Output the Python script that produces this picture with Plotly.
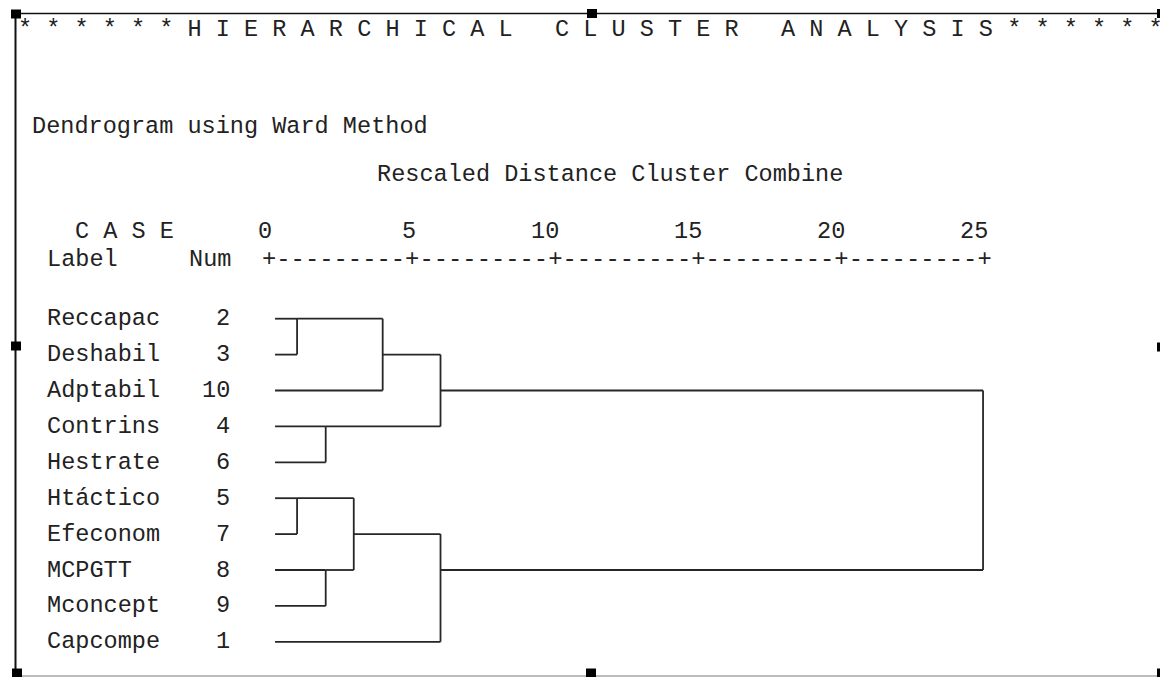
import math
import plotly.graph_objects as go

# ---------------- data ----------------
case_labels = ["Reccapac", "Deshabil", "Adptabil", "Contrins", "Hestrate",
               "Htáctico", "Efeconom", "MCPGTT", "Mconcept", "Capcompe"]
case_nums = [2, 3, 10, 4, 6, 5, 7, 8, 9, 1]

# agglomeration (node ids: 0..9 = rows in display order, 10+ = new clusters)
merge_left = [0, 5, 3, 7, 11, 10, 15, 14, 16]
merge_right = [1, 6, 4, 8, 13, 2, 12, 9, 17]
merge_dist = [1.04, 1.04, 2.04, 2.04, 3.02, 4.03, 6.05, 6.05, 25.0]
leaf_start = 0.27

tick_vals = [0, 5, 10, 15, 20, 25]
tick_text = ["0", "5", "10", "15", "20", "25"]

title_text = "* * * * * * H I E R A R C H I C A L   C L U S T E R   A N A L Y S I S * * * * * *"
method_text = "Dendrogram using Ward Method"
axis_title = "Rescaled Distance Cluster Combine"
case_header = "C A S E"
label_header = "Label"
num_header = "Num"
axis_rule = "+---------+---------+---------+---------+---------+"

# ---------------- geometry ----------------
W, H = 1160, 677
X0_PX, PX_PER_UNIT = 267.3, 28.63
Y0_PX, PX_PER_ROW = 318.7, 35.9
FONT = "Courier New, Liberation Mono, monospace"
FS = 23.55
TXT = "#222222"
LINE = "#262626"


def px(x):
    return x / W


def py(y):
    return 1 - y / H


# ---------------- dendrogram segments ----------------
n = len(case_labels)
pos = {i: i for i in range(n)}
height = {i: leaf_start for i in range(n)}
xs, ys = [], []
for k, (a, b, d) in enumerate(zip(merge_left, merge_right, merge_dist)):
    ya, yb = pos[a], pos[b]
    xs += [height[a], d, None, height[b], d, None, d, d, None]
    ys += [ya, ya, None, yb, yb, None, ya, yb, None]
    node = n + k
    pos[node] = math.floor((ya + yb) / 2)
    height[node] = d

fig = go.Figure()
fig.add_trace(go.Scatter(x=xs, y=ys, mode="lines",
                         line=dict(color=LINE, width=1.8),
                         hoverinfo="skip", showlegend=False))

ann = []


def text(t, x, y, xanchor="left", size=FS, xref="paper", yref="paper", xshift=0):
    ann.append(dict(text=t.replace(" ", "\u00a0"), x=x, y=y, xref=xref, yref=yref,
                    xanchor=xanchor, yanchor="middle", showarrow=False,
                    xshift=xshift,
                    font=dict(family=FONT, size=size, color=TXT)))


text(title_text, px(16.0), py(29.5))
text(method_text, px(30.0), py(126))
text(axis_title, px(375.0), py(174))
text(case_header, px(73.0), py(231))
text(label_header, px(45.0), py(259.5))
text(num_header, px(233.0), py(259.5), xanchor="right")
rule_fs = PX_PER_UNIT * 5 / 10 / 0.6
text(axis_rule, -0.5 * PX_PER_UNIT * 5 / 10 / PX_PER_UNIT, py(259.5), size=rule_fs,
     xref="x", xshift=0)
for v, t in zip(tick_vals, tick_text):
    text(t, v, py(231), xanchor="right", xref="x", xshift=PX_PER_UNIT * 0.25)
for i, (lab, num) in enumerate(zip(case_labels, case_nums)):
    text(lab, px(45.0), i, yref="y")
    text(str(num), px(232.0), i, xanchor="right", yref="y")

# ---------------- frame with selection handles ----------------
shapes = [
    dict(type="line", xref="paper", yref="paper", x0=px(15), x1=px(1160), y0=py(13.5), y1=py(13.5),
         line=dict(color="#111111", width=1.5)),
    dict(type="line", xref="paper", yref="paper", x0=px(15.5), x1=px(15.5), y0=py(13), y1=py(676),
         line=dict(color="#111111", width=2)),
    dict(type="line", xref="paper", yref="paper", x0=px(15), x1=px(1160), y0=py(676), y1=py(676),
         line=dict(color="#bdbdbd", width=2)),
]
for cx, cy in [(16, 14), (592, 13.5), (1162, 13.5), (16, 346), (1162, 347),
               (17, 673), (591, 673), (1162, 673)]:
    shapes.append(dict(type="rect", xref="paper", yref="paper",
                       x0=px(cx - 5), x1=px(cx + 5), y0=py(cy - 4.5), y1=py(cy + 4.5),
                       fillcolor="#000000", line=dict(width=0)))

fig.update_layout(
    width=W, height=H,
    margin=dict(l=0, r=0, t=0, b=0),
    paper_bgcolor="white", plot_bgcolor="white",
    xaxis=dict(range=[-X0_PX / PX_PER_UNIT, (W - X0_PX) / PX_PER_UNIT], visible=False,
               fixedrange=True),
    yaxis=dict(range=[(H - Y0_PX) / PX_PER_ROW, -Y0_PX / PX_PER_ROW], visible=False,
               fixedrange=True),
    annotations=ann,
    shapes=shapes,
    showlegend=False,
)

fig.write_html("out.html", config={"displayModeBar": False},
               post_script="document.body.style.margin='0';document.body.style.overflow='hidden';")
